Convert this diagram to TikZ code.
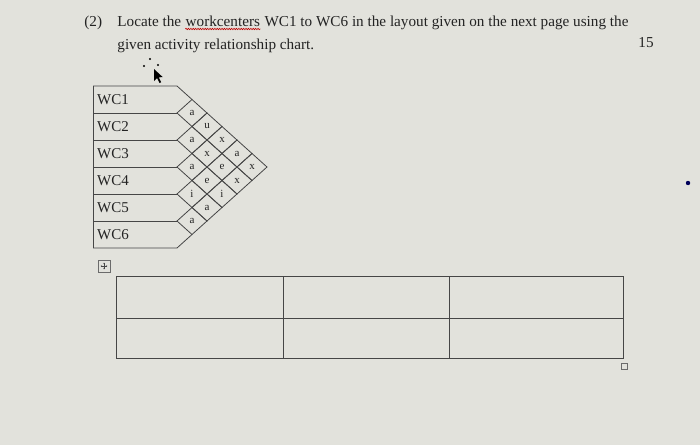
\documentclass[tikz,border=0pt]{standalone}
\usepackage{fontspec}
\setmainfont{Liberation Serif}
\usepackage{tikz}
\usetikzlibrary{shapes.geometric}
\usetikzlibrary{positioning}
\usetikzlibrary{arrows.meta}
\usetikzlibrary{decorations.pathmorphing}
\definecolor{paper}{RGB}{226,226,220}
\definecolor{ink}{RGB}{35,35,35}
\definecolor{rule}{RGB}{70,70,70}
\tikzset{
  cell node/.style={diamond,draw=rule,minimum width=30pt,minimum height=27pt,inner sep=0pt,outer sep=0pt,font=\fontsize{11}{11}\selectfont,text=ink},
  row node/.style={on grid,font=\fontsize{15}{15}\selectfont,text=ink},
  txt/.style={inner sep=0pt,anchor=base west,font=\fontsize{15.2}{18}\selectfont,text=ink}
}

\begin{document}
\begin{tikzpicture}[x=1pt,y=-1pt,node distance=27pt,line width=0.8pt]
		    \fill[paper] (0,0) rectangle (700,445);
		    \useasboundingbox (0,0) rectangle (700,445);
		    \node[txt] (num) at (84,26) {(2)};
		    \node[txt] (q1) at (117,26) {Locate the};
		    \node[txt] (q2) [base right=3.8pt of q1] {workcenters};
		    \node[txt] (q3) [base right=3.8pt of q2] {WC1 to WC6 in the layout given on the next page using the};
		    \node[txt] (q4) at (117,49) {given activity relationship chart.};
		    \node[txt] (mark) at (638,47) {15};
		    \draw[red!75!black,line width=0.6pt,decorate,decoration={snake,amplitude=0.7pt,segment length=2.4pt}] ([yshift=-3pt]q2.base west) -- ([yshift=-3pt]q2.base east);
		    \fill[black] (154,69) -- (154,81) -- (157,78) -- (159.5,83) -- (161.2,82.2) -- (158.8,77.4) -- (162.6,77) -- cycle;
		    \fill[black] (150,59) circle (1.2pt) (144,66) circle (1.2pt) (158,65) circle (1.2pt);
		    \node[row node] (1) at (113,99.5) {WC1};
		    \node[row node] (2) [below=of 1] {WC2};
		    \node[row node] (3) [below=of 2] {WC3};
		    \node[row node] (4) [below=of 3] {WC4};
		    \node[row node] (5) [below=of 4] {WC5};
		    \node[row node] (6) [below=of 5] {WC6};
		    \node[cell node] (12) at (192,113) {a};
		    \node[cell node] (13) at (207,126.5) {u};
		    \node[cell node] (14) at (222,140) {x};
		    \node[cell node] (15) at (237,153.5) {a};
		    \node[cell node] (16) at (252,167) {x};
		    \node[cell node] (23) at (192,140) {a};
		    \node[cell node] (24) at (207,153.5) {x};
		    \node[cell node] (25) at (222,167) {e};
		    \node[cell node] (26) at (237,180.5) {x};
		    \node[cell node] (34) at (192,167) {a};
		    \node[cell node] (35) at (207,180.5) {e};
		    \node[cell node] (36) at (222,194) {i};
		    \node[cell node] (45) at (192,194) {i};
		    \node[cell node] (46) at (207,207.5) {a};
		    \node[cell node] (56) at (192,221) {a};
		    \draw[rule] (93,86) -- (177,86) -- (12.north);
		    \draw[rule] (93,113) -- (12.west);
		    \draw[rule] (93,140) -- (23.west);
		    \draw[rule] (93,167) -- (34.west);
		    \draw[rule] (93,194) -- (45.west);
		    \draw[rule] (93,221) -- (56.west);
		    \draw[rule] (93,248) -- (177,248) -- (56.south);
		    \draw[rule] (93,86) -- (93,248);
		    \draw[rule!80,line width=0.6pt] (98,260) rectangle (110,272);
		    \draw[rule,line width=0.5pt,{Stealth[length=1.6pt]}-{Stealth[length=1.6pt]}] (100.5,266) -- (107.5,266);
		    \draw[rule,line width=0.5pt,{Stealth[length=1.6pt]}-{Stealth[length=1.6pt]}] (104,262.5) -- (104,269.5);
		    \draw[rule] (116,276) rectangle (623,358);
		    \draw[rule] (116,318) -- (623,318);
		    \draw[rule] (283,276) -- (283,358);
		    \draw[rule] (449,276) -- (449,358);
		    \draw[rule!80,line width=0.5pt] (621,363) rectangle (627,369);
		    \fill[blue!35!black] (688,183) circle (2.2pt);
		  \end{tikzpicture}
\end{document}
